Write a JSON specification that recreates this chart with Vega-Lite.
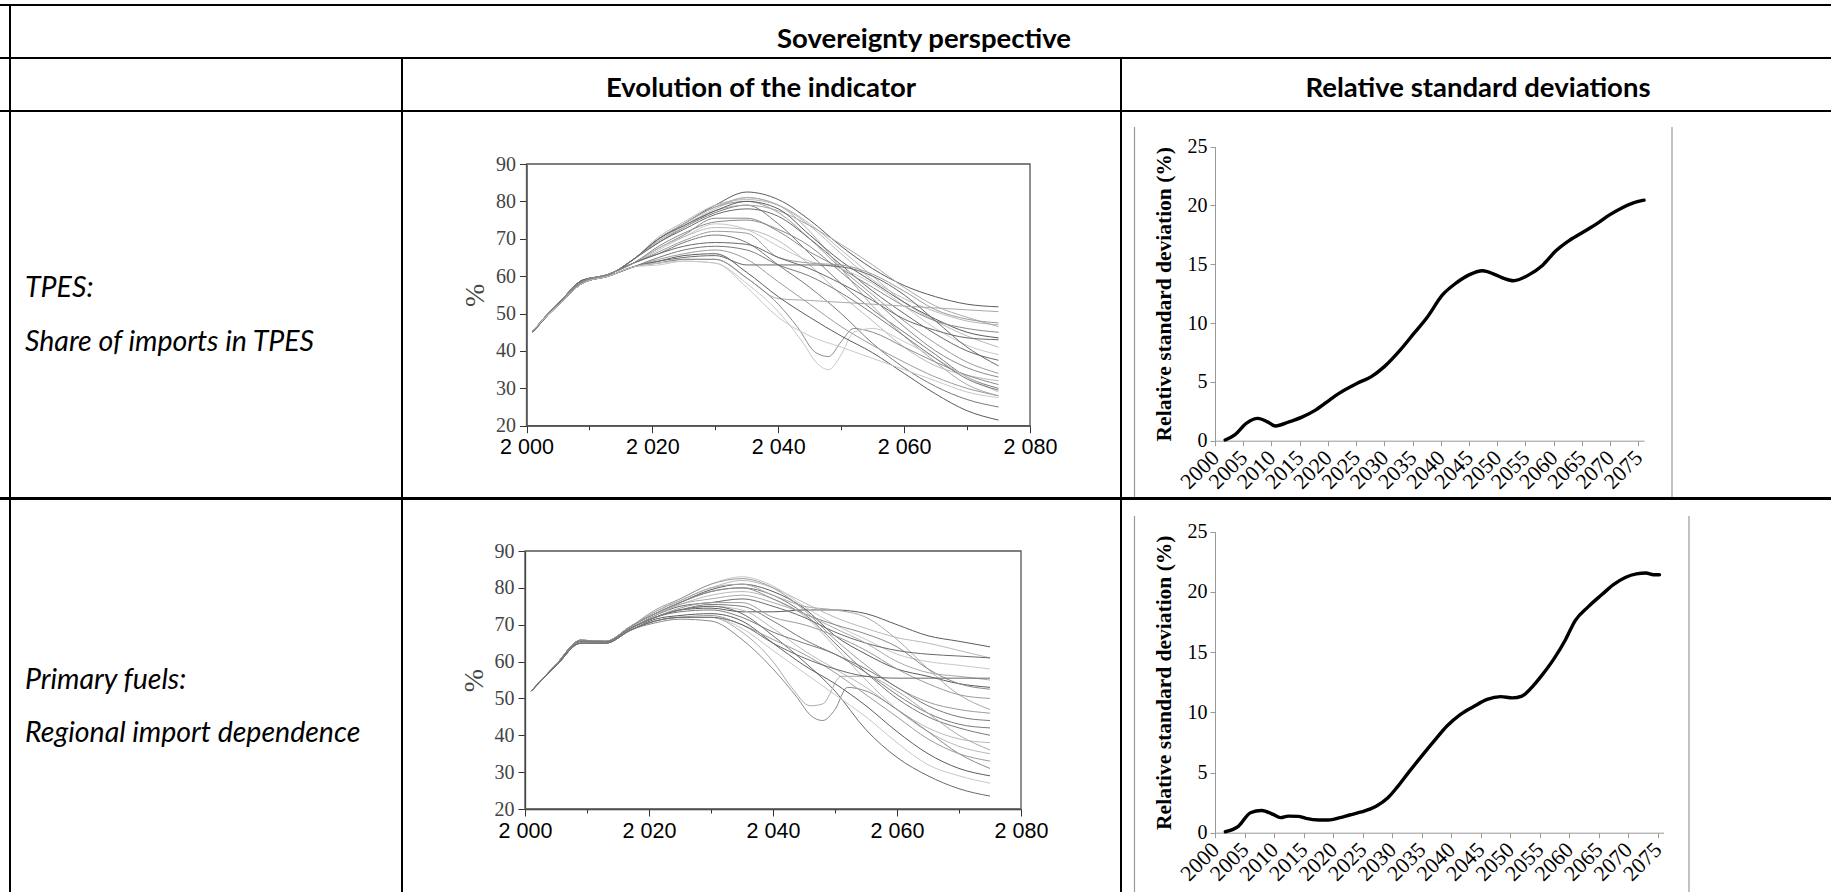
{
"$schema": "https://vega.github.io/schema/vega-lite/v6.json",
"padding": 0,
"background": "black",
"spacing": 2,
"config": {"view": {"fill": "white", "stroke": null}, "axis": {"grid": false}},
"datasets": {
"tpes": [
{"s":"A1","t":2001,"v":45},{"s":"A1","t":2005,"v":52.5},{"s":"A1","t":2009,"v":59},{"s":"A1","t":2013,"v":60.3},{"s":"A1","t":2017,"v":64.5},{"s":"A1","t":2021,"v":70},{"s":"A1","t":2025,"v":74},{"s":"A1","t":2030,"v":79},{"s":"A1","t":2035,"v":82.5},{"s":"A1","t":2040,"v":80.5},{"s":"A1","t":2045,"v":75},{"s":"A1","t":2050,"v":68},{"s":"A1","t":2055,"v":62},{"s":"A1","t":2060,"v":57.5},{"s":"A1","t":2065,"v":54.5},{"s":"A1","t":2070,"v":52.5},{"s":"A1","t":2075,"v":51.8},
{"s":"A2","t":2001,"v":45},{"s":"A2","t":2005,"v":52.5},{"s":"A2","t":2009,"v":59},{"s":"A2","t":2013,"v":60.3},{"s":"A2","t":2017,"v":64.5},{"s":"A2","t":2021,"v":69.5},{"s":"A2","t":2025,"v":73.5},{"s":"A2","t":2030,"v":78},{"s":"A2","t":2035,"v":81},{"s":"A2","t":2040,"v":79},{"s":"A2","t":2045,"v":73.5},{"s":"A2","t":2050,"v":66},{"s":"A2","t":2055,"v":59},{"s":"A2","t":2060,"v":54},{"s":"A2","t":2065,"v":50.5},{"s":"A2","t":2070,"v":48},{"s":"A2","t":2075,"v":47},
{"s":"A3","t":2001,"v":45},{"s":"A3","t":2005,"v":52.5},{"s":"A3","t":2009,"v":59},{"s":"A3","t":2013,"v":60.3},{"s":"A3","t":2017,"v":64.5},{"s":"A3","t":2021,"v":70},{"s":"A3","t":2025,"v":74},{"s":"A3","t":2030,"v":78.5},{"s":"A3","t":2035,"v":80},{"s":"A3","t":2040,"v":77},{"s":"A3","t":2045,"v":70},{"s":"A3","t":2050,"v":62},{"s":"A3","t":2055,"v":55},{"s":"A3","t":2060,"v":48},{"s":"A3","t":2065,"v":42},{"s":"A3","t":2070,"v":37},{"s":"A3","t":2075,"v":34},
{"s":"A4","t":2001,"v":45},{"s":"A4","t":2005,"v":52.5},{"s":"A4","t":2009,"v":59},{"s":"A4","t":2013,"v":60.3},{"s":"A4","t":2017,"v":64.5},{"s":"A4","t":2021,"v":69},{"s":"A4","t":2025,"v":73},{"s":"A4","t":2030,"v":77},{"s":"A4","t":2035,"v":79},{"s":"A4","t":2040,"v":74},{"s":"A4","t":2045,"v":66},{"s":"A4","t":2050,"v":58},{"s":"A4","t":2055,"v":51},{"s":"A4","t":2060,"v":45},{"s":"A4","t":2065,"v":39},{"s":"A4","t":2070,"v":33},{"s":"A4","t":2075,"v":30},
{"s":"A5","t":2001,"v":45},{"s":"A5","t":2005,"v":52.5},{"s":"A5","t":2009,"v":59},{"s":"A5","t":2013,"v":60.3},{"s":"A5","t":2017,"v":64.5},{"s":"A5","t":2021,"v":70.5},{"s":"A5","t":2025,"v":74.5},{"s":"A5","t":2030,"v":79},{"s":"A5","t":2035,"v":80.5},{"s":"A5","t":2040,"v":79},{"s":"A5","t":2045,"v":74},{"s":"A5","t":2050,"v":67},{"s":"A5","t":2055,"v":60},{"s":"A5","t":2060,"v":53},{"s":"A5","t":2065,"v":48},{"s":"A5","t":2070,"v":44},{"s":"A5","t":2075,"v":41},
{"s":"A6","t":2001,"v":45},{"s":"A6","t":2005,"v":52.5},{"s":"A6","t":2009,"v":59},{"s":"A6","t":2013,"v":60.3},{"s":"A6","t":2017,"v":64.5},{"s":"A6","t":2021,"v":69},{"s":"A6","t":2025,"v":72.5},{"s":"A6","t":2030,"v":76.5},{"s":"A6","t":2035,"v":78},{"s":"A6","t":2040,"v":76},{"s":"A6","t":2045,"v":70},{"s":"A6","t":2050,"v":63},{"s":"A6","t":2055,"v":56},{"s":"A6","t":2060,"v":50},{"s":"A6","t":2065,"v":44.5},{"s":"A6","t":2070,"v":40},{"s":"A6","t":2075,"v":37.5},
{"s":"A7","t":2001,"v":45},{"s":"A7","t":2005,"v":52.5},{"s":"A7","t":2009,"v":59},{"s":"A7","t":2013,"v":60.3},{"s":"A7","t":2017,"v":64.5},{"s":"A7","t":2021,"v":70},{"s":"A7","t":2025,"v":74},{"s":"A7","t":2030,"v":78.5},{"s":"A7","t":2035,"v":81},{"s":"A7","t":2040,"v":79},{"s":"A7","t":2045,"v":72},{"s":"A7","t":2050,"v":62},{"s":"A7","t":2055,"v":52},{"s":"A7","t":2060,"v":44},{"s":"A7","t":2065,"v":37},{"s":"A7","t":2070,"v":31},{"s":"A7","t":2075,"v":28},
{"s":"A21","t":2001,"v":45},{"s":"A21","t":2005,"v":52.5},{"s":"A21","t":2009,"v":59},{"s":"A21","t":2013,"v":60.3},{"s":"A21","t":2017,"v":64.5},{"s":"A21","t":2021,"v":69.5},{"s":"A21","t":2025,"v":73},{"s":"A21","t":2030,"v":77.5},{"s":"A21","t":2035,"v":79},{"s":"A21","t":2040,"v":77.5},{"s":"A21","t":2045,"v":73.5},{"s":"A21","t":2050,"v":68.5},{"s":"A21","t":2055,"v":63},{"s":"A21","t":2060,"v":57},{"s":"A21","t":2065,"v":52},{"s":"A21","t":2070,"v":49},{"s":"A21","t":2075,"v":46.5},
{"s":"A24","t":2001,"v":45},{"s":"A24","t":2005,"v":52.5},{"s":"A24","t":2009,"v":59},{"s":"A24","t":2013,"v":60.3},{"s":"A24","t":2017,"v":64.5},{"s":"A24","t":2021,"v":70},{"s":"A24","t":2025,"v":73.5},{"s":"A24","t":2030,"v":77.5},{"s":"A24","t":2035,"v":80},{"s":"A24","t":2040,"v":78},{"s":"A24","t":2045,"v":71},{"s":"A24","t":2050,"v":64},{"s":"A24","t":2055,"v":58.5},{"s":"A24","t":2060,"v":53},{"s":"A24","t":2065,"v":48.5},{"s":"A24","t":2070,"v":45},{"s":"A24","t":2075,"v":43.5},
{"s":"A8","t":2001,"v":45.3},{"s":"A8","t":2005,"v":52.8},{"s":"A8","t":2009,"v":58.6},{"s":"A8","t":2013,"v":60.5},{"s":"A8","t":2017,"v":63.5},{"s":"A8","t":2021,"v":67.5},{"s":"A8","t":2025,"v":71},{"s":"A8","t":2030,"v":75.5},{"s":"A8","t":2035,"v":75.5},{"s":"A8","t":2040,"v":72},{"s":"A8","t":2045,"v":66.5},{"s":"A8","t":2050,"v":62},{"s":"A8","t":2055,"v":57},{"s":"A8","t":2060,"v":52},{"s":"A8","t":2065,"v":48},{"s":"A8","t":2070,"v":46},{"s":"A8","t":2075,"v":45},
{"s":"A9","t":2001,"v":45.3},{"s":"A9","t":2005,"v":52.8},{"s":"A9","t":2009,"v":58.6},{"s":"A9","t":2013,"v":60.5},{"s":"A9","t":2017,"v":63.5},{"s":"A9","t":2021,"v":67},{"s":"A9","t":2025,"v":70.5},{"s":"A9","t":2030,"v":74},{"s":"A9","t":2035,"v":72.5},{"s":"A9","t":2040,"v":68},{"s":"A9","t":2045,"v":64},{"s":"A9","t":2050,"v":62},{"s":"A9","t":2055,"v":58},{"s":"A9","t":2060,"v":52},{"s":"A9","t":2065,"v":46},{"s":"A9","t":2070,"v":41.5},{"s":"A9","t":2075,"v":39},
{"s":"A10","t":2001,"v":45.3},{"s":"A10","t":2005,"v":52.8},{"s":"A10","t":2009,"v":58.6},{"s":"A10","t":2013,"v":60.5},{"s":"A10","t":2017,"v":63.5},{"s":"A10","t":2021,"v":66.5},{"s":"A10","t":2025,"v":69.5},{"s":"A10","t":2030,"v":72},{"s":"A10","t":2035,"v":71.5},{"s":"A10","t":2040,"v":65},{"s":"A10","t":2045,"v":63.5},{"s":"A10","t":2050,"v":63},{"s":"A10","t":2055,"v":60.5},{"s":"A10","t":2060,"v":56},{"s":"A10","t":2065,"v":51},{"s":"A10","t":2070,"v":48.5},{"s":"A10","t":2075,"v":47.5},
{"s":"A11","t":2001,"v":45.3},{"s":"A11","t":2005,"v":52.8},{"s":"A11","t":2009,"v":58.6},{"s":"A11","t":2013,"v":60.5},{"s":"A11","t":2017,"v":63.5},{"s":"A11","t":2021,"v":66},{"s":"A11","t":2025,"v":69},{"s":"A11","t":2030,"v":71},{"s":"A11","t":2035,"v":69},{"s":"A11","t":2040,"v":63},{"s":"A11","t":2045,"v":57},{"s":"A11","t":2050,"v":50},{"s":"A11","t":2055,"v":42},{"s":"A11","t":2060,"v":35.5},{"s":"A11","t":2065,"v":30.5},{"s":"A11","t":2070,"v":27},{"s":"A11","t":2075,"v":25},
{"s":"A12","t":2001,"v":45.3},{"s":"A12","t":2005,"v":52.8},{"s":"A12","t":2009,"v":58.6},{"s":"A12","t":2013,"v":60.5},{"s":"A12","t":2017,"v":63.5},{"s":"A12","t":2021,"v":67.5},{"s":"A12","t":2025,"v":70.5},{"s":"A12","t":2030,"v":73},{"s":"A12","t":2035,"v":72.5},{"s":"A12","t":2040,"v":69.5},{"s":"A12","t":2045,"v":63},{"s":"A12","t":2050,"v":55},{"s":"A12","t":2055,"v":48},{"s":"A12","t":2060,"v":41},{"s":"A12","t":2065,"v":36},{"s":"A12","t":2070,"v":33.5},{"s":"A12","t":2075,"v":32},
{"s":"A13","t":2001,"v":45.3},{"s":"A13","t":2005,"v":52.8},{"s":"A13","t":2009,"v":58.6},{"s":"A13","t":2013,"v":60.5},{"s":"A13","t":2017,"v":63.5},{"s":"A13","t":2021,"v":66},{"s":"A13","t":2025,"v":68},{"s":"A13","t":2030,"v":69},{"s":"A13","t":2035,"v":68.5},{"s":"A13","t":2040,"v":65},{"s":"A13","t":2045,"v":62},{"s":"A13","t":2050,"v":58},{"s":"A13","t":2055,"v":53.5},{"s":"A13","t":2060,"v":48.5},{"s":"A13","t":2065,"v":45.5},{"s":"A13","t":2070,"v":43.5},{"s":"A13","t":2075,"v":43},
{"s":"A22","t":2001,"v":45.3},{"s":"A22","t":2005,"v":52.8},{"s":"A22","t":2009,"v":58.6},{"s":"A22","t":2013,"v":60.5},{"s":"A22","t":2017,"v":63.5},{"s":"A22","t":2021,"v":68},{"s":"A22","t":2025,"v":71.5},{"s":"A22","t":2030,"v":74.5},{"s":"A22","t":2035,"v":75},{"s":"A22","t":2040,"v":72.5},{"s":"A22","t":2045,"v":68},{"s":"A22","t":2050,"v":61},{"s":"A22","t":2055,"v":54},{"s":"A22","t":2060,"v":46.5},{"s":"A22","t":2065,"v":40},{"s":"A22","t":2070,"v":35.5},{"s":"A22","t":2075,"v":33},
{"s":"A14","t":2001,"v":45.5},{"s":"A14","t":2005,"v":52.2},{"s":"A14","t":2009,"v":58.2},{"s":"A14","t":2013,"v":60},{"s":"A14","t":2017,"v":62.5},{"s":"A14","t":2021,"v":63.5},{"s":"A14","t":2025,"v":64.5},{"s":"A14","t":2030,"v":64.5},{"s":"A14","t":2035,"v":59.5},{"s":"A14","t":2040,"v":54},{"s":"A14","t":2045,"v":53.5},{"s":"A14","t":2050,"v":53},{"s":"A14","t":2055,"v":52.5},{"s":"A14","t":2060,"v":52},{"s":"A14","t":2065,"v":51.5},{"s":"A14","t":2070,"v":51},{"s":"A14","t":2075,"v":50.5},
{"s":"A15","t":2001,"v":45.5},{"s":"A15","t":2005,"v":52.2},{"s":"A15","t":2009,"v":58.2},{"s":"A15","t":2013,"v":60},{"s":"A15","t":2017,"v":62.5},{"s":"A15","t":2021,"v":63.5},{"s":"A15","t":2025,"v":64.5},{"s":"A15","t":2030,"v":64.5},{"s":"A15","t":2035,"v":59.5},{"s":"A15","t":2040,"v":52.5},{"s":"A15","t":2043,"v":46.5},{"s":"A15","t":2046,"v":39.5},{"s":"A15","t":2048,"v":38.5},{"s":"A15","t":2050,"v":42.5},{"s":"A15","t":2052,"v":46},{"s":"A15","t":2055,"v":45},{"s":"A15","t":2060,"v":41},{"s":"A15","t":2065,"v":37},{"s":"A15","t":2070,"v":33.5},{"s":"A15","t":2075,"v":31},
{"s":"A16","t":2001,"v":45.5},{"s":"A16","t":2005,"v":52.2},{"s":"A16","t":2009,"v":58.2},{"s":"A16","t":2013,"v":60},{"s":"A16","t":2017,"v":62.5},{"s":"A16","t":2021,"v":63},{"s":"A16","t":2025,"v":64},{"s":"A16","t":2030,"v":63.5},{"s":"A16","t":2035,"v":58},{"s":"A16","t":2040,"v":50.5},{"s":"A16","t":2044,"v":42},{"s":"A16","t":2046,"v":37},{"s":"A16","t":2048,"v":35},{"s":"A16","t":2050,"v":39},{"s":"A16","t":2052,"v":45},{"s":"A16","t":2055,"v":46},{"s":"A16","t":2060,"v":42.5},{"s":"A16","t":2065,"v":38},{"s":"A16","t":2070,"v":33},{"s":"A16","t":2075,"v":29},
{"s":"A17","t":2001,"v":45.5},{"s":"A17","t":2005,"v":52.2},{"s":"A17","t":2009,"v":58.2},{"s":"A17","t":2013,"v":60},{"s":"A17","t":2017,"v":62.5},{"s":"A17","t":2021,"v":64},{"s":"A17","t":2025,"v":65.5},{"s":"A17","t":2030,"v":66},{"s":"A17","t":2035,"v":61},{"s":"A17","t":2040,"v":54.5},{"s":"A17","t":2045,"v":49},{"s":"A17","t":2050,"v":44},{"s":"A17","t":2055,"v":39.5},{"s":"A17","t":2060,"v":34},{"s":"A17","t":2065,"v":28.5},{"s":"A17","t":2070,"v":24},{"s":"A17","t":2075,"v":21.5},
{"s":"A18","t":2001,"v":45.5},{"s":"A18","t":2005,"v":52.2},{"s":"A18","t":2009,"v":58.2},{"s":"A18","t":2013,"v":60},{"s":"A18","t":2017,"v":62.5},{"s":"A18","t":2021,"v":64.5},{"s":"A18","t":2025,"v":66},{"s":"A18","t":2030,"v":67},{"s":"A18","t":2035,"v":64.5},{"s":"A18","t":2040,"v":58.5},{"s":"A18","t":2045,"v":52.5},{"s":"A18","t":2050,"v":46.5},{"s":"A18","t":2055,"v":41.5},{"s":"A18","t":2060,"v":37},{"s":"A18","t":2065,"v":33},{"s":"A18","t":2070,"v":30},{"s":"A18","t":2075,"v":28},
{"s":"A19","t":2001,"v":45.5},{"s":"A19","t":2005,"v":52.2},{"s":"A19","t":2009,"v":58.2},{"s":"A19","t":2013,"v":60},{"s":"A19","t":2017,"v":62.5},{"s":"A19","t":2021,"v":65},{"s":"A19","t":2025,"v":67},{"s":"A19","t":2030,"v":68},{"s":"A19","t":2035,"v":67},{"s":"A19","t":2040,"v":63},{"s":"A19","t":2045,"v":60},{"s":"A19","t":2050,"v":55.5},{"s":"A19","t":2055,"v":50},{"s":"A19","t":2060,"v":44},{"s":"A19","t":2065,"v":38},{"s":"A19","t":2070,"v":32.5},{"s":"A19","t":2075,"v":29.5},
{"s":"A20","t":2001,"v":45.5},{"s":"A20","t":2005,"v":52.2},{"s":"A20","t":2009,"v":58.2},{"s":"A20","t":2013,"v":60},{"s":"A20","t":2017,"v":62.5},{"s":"A20","t":2021,"v":64},{"s":"A20","t":2025,"v":65},{"s":"A20","t":2030,"v":65.5},{"s":"A20","t":2035,"v":63},{"s":"A20","t":2040,"v":63},{"s":"A20","t":2045,"v":63},{"s":"A20","t":2050,"v":62.5},{"s":"A20","t":2055,"v":60},{"s":"A20","t":2060,"v":55},{"s":"A20","t":2065,"v":48},{"s":"A20","t":2070,"v":41},{"s":"A20","t":2075,"v":36},
{"s":"A23","t":2001,"v":45.5},{"s":"A23","t":2005,"v":52.2},{"s":"A23","t":2009,"v":58.2},{"s":"A23","t":2013,"v":60},{"s":"A23","t":2017,"v":62.5},{"s":"A23","t":2021,"v":63.5},{"s":"A23","t":2025,"v":64},{"s":"A23","t":2030,"v":63.5},{"s":"A23","t":2035,"v":57},{"s":"A23","t":2040,"v":49},{"s":"A23","t":2045,"v":44},{"s":"A23","t":2050,"v":41},{"s":"A23","t":2055,"v":38},{"s":"A23","t":2060,"v":35},{"s":"A23","t":2065,"v":32},{"s":"A23","t":2070,"v":29},{"s":"A23","t":2075,"v":27.5}
],
"fuels": [
{"s":"B1","t":2001,"v":52},{"s":"B1","t":2005,"v":59},{"s":"B1","t":2009,"v":65.5},{"s":"B1","t":2013,"v":65.3},{"s":"B1","t":2017,"v":69},{"s":"B1","t":2021,"v":72},{"s":"B1","t":2025,"v":74},{"s":"B1","t":2030,"v":74.5},{"s":"B1","t":2035,"v":73.5},{"s":"B1","t":2040,"v":73.5},{"s":"B1","t":2045,"v":74},{"s":"B1","t":2050,"v":74},{"s":"B1","t":2055,"v":73},{"s":"B1","t":2060,"v":70},{"s":"B1","t":2065,"v":67},{"s":"B1","t":2070,"v":65.5},{"s":"B1","t":2075,"v":64},
{"s":"B2","t":2001,"v":52},{"s":"B2","t":2005,"v":59.2},{"s":"B2","t":2009,"v":65.8},{"s":"B2","t":2013,"v":65.5},{"s":"B2","t":2017,"v":69.5},{"s":"B2","t":2021,"v":73.5},{"s":"B2","t":2025,"v":76.5},{"s":"B2","t":2030,"v":80},{"s":"B2","t":2035,"v":82},{"s":"B2","t":2040,"v":80},{"s":"B2","t":2045,"v":76},{"s":"B2","t":2050,"v":72},{"s":"B2","t":2055,"v":69},{"s":"B2","t":2060,"v":66.5},{"s":"B2","t":2065,"v":65},{"s":"B2","t":2070,"v":63},{"s":"B2","t":2075,"v":61},
{"s":"B3","t":2001,"v":52},{"s":"B3","t":2005,"v":59.2},{"s":"B3","t":2009,"v":65.8},{"s":"B3","t":2013,"v":65.5},{"s":"B3","t":2017,"v":69.5},{"s":"B3","t":2021,"v":73.5},{"s":"B3","t":2025,"v":77},{"s":"B3","t":2030,"v":81},{"s":"B3","t":2035,"v":83},{"s":"B3","t":2040,"v":80.5},{"s":"B3","t":2045,"v":75},{"s":"B3","t":2050,"v":70},{"s":"B3","t":2055,"v":66},{"s":"B3","t":2060,"v":62},{"s":"B3","t":2065,"v":60},{"s":"B3","t":2070,"v":59},{"s":"B3","t":2075,"v":58},
{"s":"B4","t":2001,"v":52},{"s":"B4","t":2005,"v":59.2},{"s":"B4","t":2009,"v":65.8},{"s":"B4","t":2013,"v":65.5},{"s":"B4","t":2017,"v":69.5},{"s":"B4","t":2021,"v":73},{"s":"B4","t":2025,"v":76},{"s":"B4","t":2030,"v":79.5},{"s":"B4","t":2035,"v":81},{"s":"B4","t":2040,"v":79},{"s":"B4","t":2045,"v":74.5},{"s":"B4","t":2050,"v":67},{"s":"B4","t":2055,"v":62},{"s":"B4","t":2060,"v":58},{"s":"B4","t":2065,"v":56},{"s":"B4","t":2070,"v":54},{"s":"B4","t":2075,"v":53},
{"s":"B5","t":2001,"v":52},{"s":"B5","t":2005,"v":59.2},{"s":"B5","t":2009,"v":65.8},{"s":"B5","t":2013,"v":65.5},{"s":"B5","t":2017,"v":69.5},{"s":"B5","t":2021,"v":74},{"s":"B5","t":2025,"v":77},{"s":"B5","t":2030,"v":81},{"s":"B5","t":2035,"v":82.5},{"s":"B5","t":2040,"v":80},{"s":"B5","t":2045,"v":74},{"s":"B5","t":2050,"v":66},{"s":"B5","t":2055,"v":59},{"s":"B5","t":2060,"v":53},{"s":"B5","t":2065,"v":49},{"s":"B5","t":2070,"v":47},{"s":"B5","t":2075,"v":46},
{"s":"B6","t":2001,"v":52},{"s":"B6","t":2005,"v":59.2},{"s":"B6","t":2009,"v":65.8},{"s":"B6","t":2013,"v":65.5},{"s":"B6","t":2017,"v":69.5},{"s":"B6","t":2021,"v":73},{"s":"B6","t":2025,"v":76},{"s":"B6","t":2030,"v":79},{"s":"B6","t":2035,"v":80},{"s":"B6","t":2040,"v":78},{"s":"B6","t":2045,"v":73},{"s":"B6","t":2050,"v":65},{"s":"B6","t":2055,"v":57},{"s":"B6","t":2060,"v":50},{"s":"B6","t":2065,"v":45},{"s":"B6","t":2070,"v":42},{"s":"B6","t":2075,"v":40},
{"s":"B7","t":2001,"v":52},{"s":"B7","t":2005,"v":59.2},{"s":"B7","t":2009,"v":65.8},{"s":"B7","t":2013,"v":65.5},{"s":"B7","t":2017,"v":69.5},{"s":"B7","t":2021,"v":73},{"s":"B7","t":2025,"v":75.5},{"s":"B7","t":2030,"v":78},{"s":"B7","t":2035,"v":79},{"s":"B7","t":2040,"v":77},{"s":"B7","t":2045,"v":72.5},{"s":"B7","t":2050,"v":64},{"s":"B7","t":2055,"v":55},{"s":"B7","t":2060,"v":47},{"s":"B7","t":2065,"v":41},{"s":"B7","t":2070,"v":37},{"s":"B7","t":2075,"v":35},
{"s":"B21","t":2001,"v":52},{"s":"B21","t":2005,"v":59.2},{"s":"B21","t":2009,"v":65.8},{"s":"B21","t":2013,"v":65.5},{"s":"B21","t":2017,"v":69.5},{"s":"B21","t":2021,"v":73.5},{"s":"B21","t":2025,"v":76.5},{"s":"B21","t":2030,"v":80},{"s":"B21","t":2035,"v":81},{"s":"B21","t":2040,"v":78},{"s":"B21","t":2045,"v":75},{"s":"B21","t":2050,"v":74},{"s":"B21","t":2055,"v":72},{"s":"B21","t":2060,"v":66},{"s":"B21","t":2065,"v":58},{"s":"B21","t":2070,"v":51},{"s":"B21","t":2075,"v":47},
{"s":"B22","t":2001,"v":52},{"s":"B22","t":2005,"v":59.2},{"s":"B22","t":2009,"v":65.8},{"s":"B22","t":2013,"v":65.5},{"s":"B22","t":2017,"v":69.5},{"s":"B22","t":2021,"v":73},{"s":"B22","t":2025,"v":76},{"s":"B22","t":2030,"v":79},{"s":"B22","t":2035,"v":80},{"s":"B22","t":2040,"v":77},{"s":"B22","t":2045,"v":73},{"s":"B22","t":2050,"v":70},{"s":"B22","t":2055,"v":67.5},{"s":"B22","t":2060,"v":64},{"s":"B22","t":2065,"v":58},{"s":"B22","t":2070,"v":54},{"s":"B22","t":2075,"v":52.5},
{"s":"B8","t":2001,"v":52},{"s":"B8","t":2005,"v":59},{"s":"B8","t":2009,"v":65.5},{"s":"B8","t":2013,"v":65.3},{"s":"B8","t":2017,"v":69},{"s":"B8","t":2021,"v":72.5},{"s":"B8","t":2025,"v":75},{"s":"B8","t":2030,"v":76},{"s":"B8","t":2035,"v":77},{"s":"B8","t":2040,"v":75},{"s":"B8","t":2045,"v":72},{"s":"B8","t":2050,"v":68},{"s":"B8","t":2055,"v":65},{"s":"B8","t":2060,"v":63},{"s":"B8","t":2065,"v":62},{"s":"B8","t":2070,"v":61.5},{"s":"B8","t":2075,"v":61},
{"s":"B9","t":2001,"v":52},{"s":"B9","t":2005,"v":59},{"s":"B9","t":2009,"v":65.5},{"s":"B9","t":2013,"v":65.3},{"s":"B9","t":2017,"v":69},{"s":"B9","t":2021,"v":72.5},{"s":"B9","t":2025,"v":75.5},{"s":"B9","t":2030,"v":77},{"s":"B9","t":2035,"v":78},{"s":"B9","t":2040,"v":76},{"s":"B9","t":2045,"v":73},{"s":"B9","t":2050,"v":69},{"s":"B9","t":2055,"v":65},{"s":"B9","t":2060,"v":60},{"s":"B9","t":2065,"v":57},{"s":"B9","t":2070,"v":56},{"s":"B9","t":2075,"v":55},
{"s":"B10","t":2001,"v":52},{"s":"B10","t":2005,"v":59},{"s":"B10","t":2009,"v":65.5},{"s":"B10","t":2013,"v":65.3},{"s":"B10","t":2017,"v":69},{"s":"B10","t":2021,"v":72},{"s":"B10","t":2025,"v":74.5},{"s":"B10","t":2030,"v":76},{"s":"B10","t":2035,"v":76},{"s":"B10","t":2040,"v":72},{"s":"B10","t":2045,"v":70},{"s":"B10","t":2050,"v":67},{"s":"B10","t":2055,"v":63},{"s":"B10","t":2060,"v":58},{"s":"B10","t":2065,"v":54},{"s":"B10","t":2070,"v":51},{"s":"B10","t":2075,"v":50},
{"s":"B11","t":2001,"v":52},{"s":"B11","t":2005,"v":59},{"s":"B11","t":2009,"v":65.5},{"s":"B11","t":2013,"v":65.3},{"s":"B11","t":2017,"v":69},{"s":"B11","t":2021,"v":72},{"s":"B11","t":2025,"v":74},{"s":"B11","t":2030,"v":75.5},{"s":"B11","t":2035,"v":75},{"s":"B11","t":2040,"v":71},{"s":"B11","t":2045,"v":66},{"s":"B11","t":2050,"v":62},{"s":"B11","t":2055,"v":58},{"s":"B11","t":2060,"v":53},{"s":"B11","t":2065,"v":48},{"s":"B11","t":2070,"v":45},{"s":"B11","t":2075,"v":44},
{"s":"B12","t":2001,"v":52},{"s":"B12","t":2005,"v":59},{"s":"B12","t":2009,"v":65.5},{"s":"B12","t":2013,"v":65.3},{"s":"B12","t":2017,"v":69},{"s":"B12","t":2021,"v":72},{"s":"B12","t":2025,"v":74},{"s":"B12","t":2030,"v":75},{"s":"B12","t":2035,"v":74},{"s":"B12","t":2040,"v":69},{"s":"B12","t":2045,"v":63},{"s":"B12","t":2050,"v":58},{"s":"B12","t":2055,"v":53},{"s":"B12","t":2060,"v":47},{"s":"B12","t":2065,"v":42},{"s":"B12","t":2070,"v":39},{"s":"B12","t":2075,"v":38},
{"s":"B13","t":2001,"v":52},{"s":"B13","t":2005,"v":59},{"s":"B13","t":2009,"v":65.5},{"s":"B13","t":2013,"v":65.3},{"s":"B13","t":2017,"v":69},{"s":"B13","t":2021,"v":72},{"s":"B13","t":2025,"v":74},{"s":"B13","t":2030,"v":75},{"s":"B13","t":2035,"v":73},{"s":"B13","t":2040,"v":67},{"s":"B13","t":2045,"v":60},{"s":"B13","t":2050,"v":52},{"s":"B13","t":2055,"v":41.5},{"s":"B13","t":2060,"v":34},{"s":"B13","t":2065,"v":29},{"s":"B13","t":2070,"v":25.5},{"s":"B13","t":2075,"v":23.5},
{"s":"B19","t":2001,"v":52},{"s":"B19","t":2005,"v":59},{"s":"B19","t":2009,"v":65.5},{"s":"B19","t":2013,"v":65.3},{"s":"B19","t":2017,"v":69},{"s":"B19","t":2021,"v":72},{"s":"B19","t":2025,"v":73.5},{"s":"B19","t":2030,"v":74},{"s":"B19","t":2035,"v":72},{"s":"B19","t":2040,"v":68},{"s":"B19","t":2045,"v":65},{"s":"B19","t":2050,"v":62},{"s":"B19","t":2055,"v":57},{"s":"B19","t":2060,"v":51},{"s":"B19","t":2065,"v":46},{"s":"B19","t":2070,"v":43},{"s":"B19","t":2075,"v":42},
{"s":"B14","t":2001,"v":52},{"s":"B14","t":2005,"v":58.8},{"s":"B14","t":2009,"v":65},{"s":"B14","t":2013,"v":65},{"s":"B14","t":2017,"v":68.5},{"s":"B14","t":2021,"v":71},{"s":"B14","t":2025,"v":72},{"s":"B14","t":2030,"v":72},{"s":"B14","t":2035,"v":68},{"s":"B14","t":2040,"v":60},{"s":"B14","t":2043,"v":53},{"s":"B14","t":2046,"v":48},{"s":"B14","t":2048,"v":48.5},{"s":"B14","t":2051,"v":56},{"s":"B14","t":2055,"v":56},{"s":"B14","t":2060,"v":52},{"s":"B14","t":2065,"v":46},{"s":"B14","t":2070,"v":40},{"s":"B14","t":2075,"v":36},
{"s":"B15","t":2001,"v":52},{"s":"B15","t":2005,"v":58.8},{"s":"B15","t":2009,"v":65},{"s":"B15","t":2013,"v":65},{"s":"B15","t":2017,"v":68.5},{"s":"B15","t":2021,"v":70.5},{"s":"B15","t":2025,"v":71.5},{"s":"B15","t":2030,"v":71},{"s":"B15","t":2035,"v":66},{"s":"B15","t":2040,"v":58},{"s":"B15","t":2044,"v":50},{"s":"B15","t":2046,"v":45.5},{"s":"B15","t":2048,"v":44},{"s":"B15","t":2050,"v":47},{"s":"B15","t":2052,"v":53},{"s":"B15","t":2055,"v":52},{"s":"B15","t":2060,"v":47},{"s":"B15","t":2065,"v":41},{"s":"B15","t":2070,"v":35},{"s":"B15","t":2075,"v":31},
{"s":"B16","t":2001,"v":52},{"s":"B16","t":2005,"v":58.8},{"s":"B16","t":2009,"v":65},{"s":"B16","t":2013,"v":65},{"s":"B16","t":2017,"v":68.5},{"s":"B16","t":2021,"v":71},{"s":"B16","t":2025,"v":72},{"s":"B16","t":2030,"v":72},{"s":"B16","t":2035,"v":69},{"s":"B16","t":2040,"v":63},{"s":"B16","t":2045,"v":57},{"s":"B16","t":2050,"v":51},{"s":"B16","t":2055,"v":45},{"s":"B16","t":2060,"v":38},{"s":"B16","t":2065,"v":32},{"s":"B16","t":2070,"v":29},{"s":"B16","t":2075,"v":27},
{"s":"B17","t":2001,"v":52},{"s":"B17","t":2005,"v":58.8},{"s":"B17","t":2009,"v":65},{"s":"B17","t":2013,"v":65},{"s":"B17","t":2017,"v":68.5},{"s":"B17","t":2021,"v":71.5},{"s":"B17","t":2025,"v":72.5},{"s":"B17","t":2030,"v":73},{"s":"B17","t":2035,"v":71},{"s":"B17","t":2040,"v":65},{"s":"B17","t":2045,"v":59},{"s":"B17","t":2050,"v":54},{"s":"B17","t":2055,"v":48},{"s":"B17","t":2060,"v":41},{"s":"B17","t":2065,"v":35},{"s":"B17","t":2070,"v":31},{"s":"B17","t":2075,"v":29},
{"s":"B18","t":2001,"v":52},{"s":"B18","t":2005,"v":58.8},{"s":"B18","t":2009,"v":65},{"s":"B18","t":2013,"v":65},{"s":"B18","t":2017,"v":68.5},{"s":"B18","t":2021,"v":71},{"s":"B18","t":2025,"v":72},{"s":"B18","t":2030,"v":72.5},{"s":"B18","t":2035,"v":70},{"s":"B18","t":2040,"v":66},{"s":"B18","t":2045,"v":62},{"s":"B18","t":2050,"v":57},{"s":"B18","t":2055,"v":51},{"s":"B18","t":2060,"v":45},{"s":"B18","t":2065,"v":39},{"s":"B18","t":2070,"v":35},{"s":"B18","t":2075,"v":33},
{"s":"B20","t":2001,"v":52},{"s":"B20","t":2005,"v":58.8},{"s":"B20","t":2009,"v":65},{"s":"B20","t":2013,"v":65},{"s":"B20","t":2017,"v":68.5},{"s":"B20","t":2021,"v":71},{"s":"B20","t":2025,"v":72},{"s":"B20","t":2030,"v":72},{"s":"B20","t":2035,"v":70},{"s":"B20","t":2040,"v":65},{"s":"B20","t":2045,"v":61},{"s":"B20","t":2050,"v":58},{"s":"B20","t":2055,"v":56},{"s":"B20","t":2060,"v":55.5},{"s":"B20","t":2065,"v":55.5},{"s":"B20","t":2070,"v":55.5},{"s":"B20","t":2075,"v":55.5}
],
"rsd1": [
{"t":2001.8,"v":0.06},{"t":2003.5,"v":0.5},{"t":2005.6,"v":1.5},{"t":2007.6,"v":1.9},{"t":2009.3,"v":1.6},{"t":2010.7,"v":1.25},{"t":2013.1,"v":1.6},{"t":2015.4,"v":2.0},{"t":2017.8,"v":2.6},{"t":2020.4,"v":3.5},{"t":2021.9,"v":4.0},{"t":2025.3,"v":4.9},{"t":2027.7,"v":5.45},{"t":2030,"v":6.3},{"t":2032.8,"v":7.7},{"t":2035.2,"v":9.1},{"t":2037.6,"v":10.5},{"t":2040.3,"v":12.4},{"t":2042.7,"v":13.4},{"t":2045,"v":14.1},{"t":2047.4,"v":14.45},{"t":2049.5,"v":14.15},{"t":2051.2,"v":13.8},{"t":2052.9,"v":13.6},{"t":2055.6,"v":14.1},{"t":2058,"v":14.9},{"t":2060.3,"v":16.1},{"t":2062.4,"v":16.9},{"t":2065.1,"v":17.7},{"t":2067.8,"v":18.5},{"t":2069.9,"v":19.2},{"t":2071.9,"v":19.75},{"t":2074,"v":20.2},{"t":2076,"v":20.45}
],
"rsd2": [
{"t":2001.75,"v":0.08},{"t":2004,"v":0.55},{"t":2006,"v":1.66},{"t":2007.9,"v":1.85},{"t":2009.85,"v":1.52},{"t":2011.1,"v":1.25},{"t":2012.4,"v":1.38},{"t":2014.1,"v":1.36},{"t":2015.4,"v":1.19},{"t":2017.6,"v":1.05},{"t":2019.2,"v":1.05},{"t":2021.2,"v":1.25},{"t":2022.8,"v":1.47},{"t":2024.8,"v":1.72},{"t":2027.3,"v":2.2},{"t":2029.3,"v":2.9},{"t":2030.9,"v":3.8},{"t":2032.9,"v":5.07},{"t":2034.8,"v":6.23},{"t":2037.1,"v":7.6},{"t":2039.3,"v":8.86},{"t":2041.6,"v":9.83},{"t":2043.9,"v":10.5},{"t":2046.1,"v":11.07},{"t":2048.4,"v":11.3},{"t":2050.4,"v":11.2},{"t":2052,"v":11.35},{"t":2053.9,"v":12.2},{"t":2055.5,"v":13.15},{"t":2057.5,"v":14.5},{"t":2059.4,"v":16.05},{"t":2061,"v":17.6},{"t":2063.3,"v":18.8},{"t":2065.6,"v":19.8},{"t":2067.5,"v":20.6},{"t":2069.5,"v":21.2},{"t":2071.4,"v":21.5},{"t":2073,"v":21.57},{"t":2074.3,"v":21.43},{"t":2075.3,"v":21.43}
]
},
"vconcat": [
{"width": 1831, "height": 4, "data": {"values": [{}]}, "mark": {"type": "text", "fontSize": 0}, "encoding": {"x": {"datum": 0.5, "type": "quantitative", "scale": {"domain": [0, 1]}, "axis": null}, "y": {"datum": 0.5, "type": "quantitative", "scale": {"domain": [0, 1]}, "axis": null}, "text": {"value": ""}}},
{"hconcat": [
 {"width": 9, "height": 51, "data": {"values": [{}]}, "mark": {"type": "text", "fontSize": 0}, "encoding": {"x": {"datum": 0.5, "type": "quantitative", "scale": {"domain": [0, 1]}, "axis": null}, "y": {"datum": 0.5, "type": "quantitative", "scale": {"domain": [0, 1]}, "axis": null}, "text": {"value": ""}}},
 {"width": 1820, "height": 51, "data": {"values": [{"label": "Sovereignty perspective"}]}, "mark": {"type": "text", "font": "Lato", "fontWeight": "bold", "fontSize": 27.5, "baseline": "alphabetic", "align": "center", "dx": 3, "dy": 16.5, "color": "black"}, "encoding": {"x": {"datum": 0.5, "type": "quantitative", "scale": {"domain": [0, 1]}, "axis": null}, "y": {"datum": 0.5, "type": "quantitative", "scale": {"domain": [0, 1]}, "axis": null}, "text": {"field": "label"}}}
], "spacing": 2},
{"hconcat": [
 {"width": 9, "height": 51, "data": {"values": [{}]}, "mark": {"type": "text", "fontSize": 0}, "encoding": {"x": {"datum": 0.5, "type": "quantitative", "scale": {"domain": [0, 1]}, "axis": null}, "y": {"datum": 0.5, "type": "quantitative", "scale": {"domain": [0, 1]}, "axis": null}, "text": {"value": ""}}},
 {"width": 390, "height": 51, "data": {"values": [{}]}, "mark": {"type": "text", "fontSize": 0}, "encoding": {"x": {"datum": 0.5, "type": "quantitative", "scale": {"domain": [0, 1]}, "axis": null}, "y": {"datum": 0.5, "type": "quantitative", "scale": {"domain": [0, 1]}, "axis": null}, "text": {"value": ""}}},
 {"width": 717, "height": 51, "data": {"values": [{"label": "Evolution of the indicator"}]}, "mark": {"type": "text", "font": "Lato", "fontWeight": "bold", "fontSize": 27.5, "baseline": "alphabetic", "align": "center", "dx": -0.5, "dy": 12.5, "color": "black"}, "encoding": {"x": {"datum": 0.5, "type": "quantitative", "scale": {"domain": [0, 1]}, "axis": null}, "y": {"datum": 0.5, "type": "quantitative", "scale": {"domain": [0, 1]}, "axis": null}, "text": {"field": "label"}}},
 {"width": 709, "height": 51, "data": {"values": [{"label": "Relative standard deviations"}]}, "mark": {"type": "text", "font": "Lato", "fontWeight": "bold", "fontSize": 27.5, "baseline": "alphabetic", "align": "center", "dx": 1.5, "dy": 12.5, "color": "black"}, "encoding": {"x": {"datum": 0.5, "type": "quantitative", "scale": {"domain": [0, 1]}, "axis": null}, "y": {"datum": 0.5, "type": "quantitative", "scale": {"domain": [0, 1]}, "axis": null}, "text": {"field": "label"}}}
], "spacing": 2},
{"hconcat": [
 {"width": 9, "height": 385, "data": {"values": [{}]}, "mark": {"type": "text", "fontSize": 0}, "encoding": {"x": {"datum": 0.5, "type": "quantitative", "scale": {"domain": [0, 1]}, "axis": null}, "y": {"datum": 0.5, "type": "quantitative", "scale": {"domain": [0, 1]}, "axis": null}, "text": {"value": ""}}},
 {"width": 390, "height": 385, "data": {"values": [{"lines": ["TPES:", "Share of imports in TPES"]}]}, "mark": {"type": "text", "font": "Lato", "fontStyle": "italic", "fontSize": 28.5, "align": "left", "baseline": "alphabetic", "dx": 14, "dy": -7.5, "lineHeight": 53.5, "color": "black"}, "encoding": {"x": {"datum": 0, "type": "quantitative", "scale": {"domain": [0, 1]}, "axis": null}, "y": {"datum": 0.5, "type": "quantitative", "scale": {"domain": [0, 1]}, "axis": null}, "text": {"field": "lines"}}},
 {"width": 717, "height": 385, "layer": [
  {"data": {"values": [{}]}, "mark": {"type": "rect", "fillOpacity": 0, "stroke": "#555", "strokeWidth": 1.3}, "encoding": {"x": {"datum": 2000, "type": "quantitative"}, "x2": {"datum": 2080}, "y": {"datum": 20, "type": "quantitative"}, "y2": {"datum": 90}}},
  {"data": {"name": "tpes"}, "mark": {"type": "line", "interpolate": "monotone", "strokeWidth": 1},
   "encoding": {
    "x": {"field": "t", "type": "quantitative", "scale": {"domain": [2000, 2080], "range": [123.5, 627], "nice": false, "zero": false},
      "axis": {"orient": "bottom", "offset": -71.3, "values": [2000, 2010, 2020, 2030, 2040, 2050, 2060, 2070, 2080], "labelExpr": "datum.value % 20 === 0 ? replace(format(datum.value, ','), ',', ' ') : ''", "labelFont": "Liberation Sans", "labelFontSize": 21.5, "labelColor": "black", "labelPadding": 4, "tickSize": {"condition": {"test": "datum.value % 20 === 0", "value": 7}, "value": 4}, "tickColor": "#333", "domainColor": "#333", "domainWidth": 1.3, "title": null, "labelFlush": false, "labelOverlap": false}},
    "y": {"field": "v", "type": "quantitative", "scale": {"domain": [20, 90], "range": [313.7, 52], "nice": false, "zero": false},
      "axis": {"orient": "left", "offset": -123.5, "values": [20, 30, 40, 50, 60, 70, 80, 90], "labelFont": "Liberation Serif", "labelFontSize": 20, "labelColor": "#444", "labelPadding": 4, "tickSize": 7, "tickColor": "#333", "domainColor": "#333", "domainWidth": 1.3, "title": "%", "titleFont": "Liberation Serif", "titleFontSize": 28, "titleFontWeight": "normal", "titleColor": "#444", "titlePadding": 6, "labelFlush": false}},
    "color": {"field": "s", "type": "nominal", "legend": null, "scale": {"range": ["#5c5c5c", "#9c9c9c", "#7a7a7a", "#bababa", "#6a6a6a", "#aaaaaa", "#8a8a8a", "#c8c8c8"]}}
   }}
 ]},
 {"width": 709, "height": 385, "layer": [
  {"data": {"values": [{}]}, "mark": {"type": "rule", "color": "#9a9a9a", "strokeWidth": 1.2}, "encoding": {"x": {"datum": 1985.74, "type": "quantitative"}, "y": {"datum": 26.67, "type": "quantitative"}, "y2": {"datum": -4.79}}},
  {"data": {"values": [{}]}, "mark": {"type": "rule", "color": "#9a9a9a", "strokeWidth": 1.2}, "encoding": {"x": {"datum": 2080.96, "type": "quantitative"}, "y": {"datum": 26.67, "type": "quantitative"}, "y2": {"datum": -4.79}}},
  {"data": {"name": "rsd1"}, "mark": {"type": "line", "interpolate": "monotone", "strokeWidth": 3.4, "color": "black", "strokeCap": "round", "strokeJoin": "round"},
   "encoding": {
    "x": {"field": "t", "type": "quantitative", "scale": {"domain": [2000, 2076], "range": [93, 522], "nice": false, "zero": false},
      "axis": {"orient": "bottom", "offset": -56.3, "values": [2000, 2005, 2010, 2015, 2020, 2025, 2030, 2035, 2040, 2045, 2050, 2055, 2060, 2065, 2070, 2075], "format": "d", "labelAngle": -45, "labelAlign": "right", "labelBaseline": "middle", "labelFont": "Liberation Serif", "labelFontSize": 22, "labelColor": "black", "labelPadding": 8, "tickSize": 5, "tickColor": "#999", "domainColor": "#999", "title": null, "labelFlush": false, "labelOverlap": false}},
    "y": {"field": "v", "type": "quantitative", "scale": {"domain": [0, 25], "range": [328.7, 34.7], "nice": false, "zero": false},
      "axis": {"orient": "left", "offset": -93, "values": [0, 5, 10, 15, 20, 25], "labelFont": "Liberation Serif", "labelFontSize": 20, "labelColor": "black", "labelPadding": 3, "tickSize": 5, "tickColor": "#999", "domainColor": "#999", "title": "Relative standard deviation (%)", "titleFont": "Liberation Serif", "titleFontSize": 21.5, "titleFontWeight": "bold", "titleColor": "black", "titlePadding": 12, "labelFlush": false}}
   }}
 ]}
], "spacing": 2},
{"hconcat": [
 {"width": 9, "height": 393, "data": {"values": [{}]}, "mark": {"type": "text", "fontSize": 0}, "encoding": {"x": {"datum": 0.5, "type": "quantitative", "scale": {"domain": [0, 1]}, "axis": null}, "y": {"datum": 0.5, "type": "quantitative", "scale": {"domain": [0, 1]}, "axis": null}, "text": {"value": ""}}},
 {"width": 390, "height": 393, "data": {"values": [{"lines": ["Primary fuels:", "Regional import dependence"]}]}, "mark": {"type": "text", "font": "Lato", "fontStyle": "italic", "fontSize": 28.5, "align": "left", "baseline": "alphabetic", "dx": 14, "dy": -7.5, "lineHeight": 52.5, "color": "black"}, "encoding": {"x": {"datum": 0, "type": "quantitative", "scale": {"domain": [0, 1]}, "axis": null}, "y": {"datum": 0.5, "type": "quantitative", "scale": {"domain": [0, 1]}, "axis": null}, "text": {"field": "lines"}}},
 {"width": 717, "height": 393, "layer": [
  {"data": {"values": [{}]}, "mark": {"type": "rect", "fillOpacity": 0, "stroke": "#555", "strokeWidth": 1.3}, "encoding": {"x": {"datum": 2000, "type": "quantitative"}, "x2": {"datum": 2080}, "y": {"datum": 20, "type": "quantitative"}, "y2": {"datum": 90}}},
  {"data": {"name": "fuels"}, "mark": {"type": "line", "interpolate": "monotone", "strokeWidth": 1},
   "encoding": {
    "x": {"field": "t", "type": "quantitative", "scale": {"domain": [2000, 2080], "range": [122, 618], "nice": false, "zero": false},
      "axis": {"orient": "bottom", "offset": -84, "values": [2000, 2010, 2020, 2030, 2040, 2050, 2060, 2070, 2080], "labelExpr": "datum.value % 20 === 0 ? replace(format(datum.value, ','), ',', ' ') : ''", "labelFont": "Liberation Sans", "labelFontSize": 21.5, "labelColor": "black", "labelPadding": 4, "tickSize": {"condition": {"test": "datum.value % 20 === 0", "value": 7}, "value": 4}, "tickColor": "#333", "domainColor": "#333", "domainWidth": 1.3, "title": null, "labelFlush": false, "labelOverlap": false}},
    "y": {"field": "v", "type": "quantitative", "scale": {"domain": [20, 90], "range": [309, 51], "nice": false, "zero": false},
      "axis": {"orient": "left", "offset": -122, "values": [20, 30, 40, 50, 60, 70, 80, 90], "labelFont": "Liberation Serif", "labelFontSize": 20, "labelColor": "#444", "labelPadding": 4, "tickSize": 7, "tickColor": "#333", "domainColor": "#333", "domainWidth": 1.3, "title": "%", "titleFont": "Liberation Serif", "titleFontSize": 28, "titleFontWeight": "normal", "titleColor": "#444", "titlePadding": 6, "labelFlush": false}},
    "color": {"field": "s", "type": "nominal", "legend": null, "scale": {"range": ["#5c5c5c", "#9c9c9c", "#7a7a7a", "#bababa", "#6a6a6a", "#aaaaaa", "#8a8a8a", "#c8c8c8"]}}
   }}
 ]},
 {"width": 709, "height": 393, "layer": [
  {"data": {"values": [{}]}, "mark": {"type": "rule", "color": "#9a9a9a", "strokeWidth": 1.2}, "encoding": {"x": {"datum": 1986.36, "type": "quantitative"}, "y": {"datum": 26.3, "type": "quantitative"}, "y2": {"datum": -5.0}}},
  {"data": {"values": [{}]}, "mark": {"type": "rule", "color": "#9a9a9a", "strokeWidth": 1.2}, "encoding": {"x": {"datum": 2080.3, "type": "quantitative"}, "y": {"datum": 26.3, "type": "quantitative"}, "y2": {"datum": -5.0}}},
  {"data": {"name": "rsd2"}, "mark": {"type": "line", "interpolate": "monotone", "strokeWidth": 3.4, "color": "black", "strokeCap": "round", "strokeJoin": "round"},
   "encoding": {
    "x": {"field": "t", "type": "quantitative", "scale": {"domain": [2000, 2076], "range": [93, 541.6], "nice": false, "zero": false},
      "axis": {"orient": "bottom", "offset": -60.3, "values": [2000, 2005, 2010, 2015, 2020, 2025, 2030, 2035, 2040, 2045, 2050, 2055, 2060, 2065, 2070, 2075], "format": "d", "labelAngle": -45, "labelAlign": "right", "labelBaseline": "middle", "labelFont": "Liberation Serif", "labelFontSize": 22, "labelColor": "black", "labelPadding": 8, "tickSize": 5, "tickColor": "#999", "domainColor": "#999", "title": null, "labelFlush": false, "labelOverlap": false}},
    "y": {"field": "v", "type": "quantitative", "scale": {"domain": [0, 25], "range": [332.7, 31.7], "nice": false, "zero": false},
      "axis": {"orient": "left", "offset": -93, "values": [0, 5, 10, 15, 20, 25], "labelFont": "Liberation Serif", "labelFontSize": 20, "labelColor": "black", "labelPadding": 3, "tickSize": 5, "tickColor": "#999", "domainColor": "#999", "title": "Relative standard deviation (%)", "titleFont": "Liberation Serif", "titleFontSize": 21.5, "titleFontWeight": "bold", "titleColor": "black", "titlePadding": 12, "labelFlush": false}}
   }}
 ]}
], "spacing": 2}
]
}
